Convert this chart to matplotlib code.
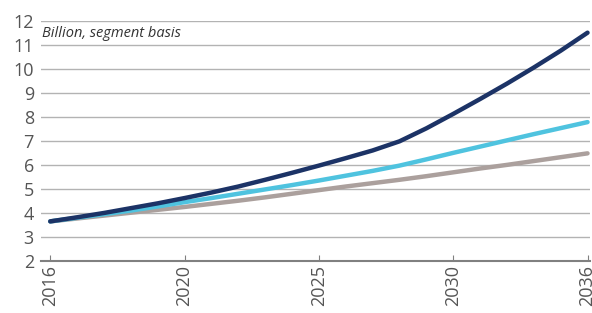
import matplotlib
matplotlib.use("Agg")
import matplotlib.pyplot as plt
import numpy as np

years = list(range(2016, 2037))
navy = [3.65, 3.82, 4.0, 4.2, 4.4, 4.62, 4.85, 5.1, 5.38, 5.67, 5.97,
        6.28, 6.6, 6.98, 7.52, 8.12, 8.74, 9.38, 10.05, 10.75, 11.5]
cyan = [3.65, 3.8, 3.95, 4.1, 4.27, 4.45, 4.62, 4.8, 4.98, 5.16, 5.35,
        5.55, 5.75, 5.97, 6.23, 6.5, 6.76, 7.02, 7.28, 7.53, 7.78]
grey = [3.65, 3.77, 3.89, 4.01, 4.13, 4.25, 4.38, 4.51, 4.65, 4.8, 4.95,
        5.1, 5.24, 5.38, 5.53, 5.69, 5.85, 6.0, 6.16, 6.32, 6.48]
tick_years = [2016, 2020, 2025, 2030, 2036]
tick_pos = [0, 5, 10, 15, 20]

plt.rcParams['font.family'] = ['Open Sans', 'DejaVu Sans']

fig = plt.figure(figsize=(5.92, 3.13), dpi=100)
ax = fig.add_axes([0.069, 0.166, 0.928, 0.768])

x = np.arange(len(years))
ax.plot(x, grey, color='#aba09d', lw=3.2, solid_capstyle='round', zorder=3)
ax.plot(x, cyan, color='#4fc3df', lw=3.2, solid_capstyle='round', zorder=4)
ax.plot(x, navy, color='#1c3366', lw=3.2, solid_capstyle='round', zorder=5)

ax.set_ylim(2, 12)
ax.set_xlim(-0.35, 20.1)
ax.set_yticks(range(2, 13))
ax.yaxis.grid(True, color='#b3b3b3', lw=1.0)
ax.set_axisbelow(True)
for s in ['top', 'right', 'left']:
    ax.spines[s].set_visible(False)
ax.spines['bottom'].set_color('#808080')
ax.spines['bottom'].set_linewidth(1.5)

ax.set_xticks(tick_pos)
ax.set_xticklabels([str(t) for t in tick_years], rotation=90)
ax.tick_params(axis='x', direction='in', length=4, color='#808080', pad=3,
               labelsize=13, labelcolor='#555555')
ax.tick_params(axis='y', length=0, pad=5, labelsize=13, labelcolor='#555555')

ax.text(-0.3, 11.45, 'Billion, segment basis', fontsize=10.5, style='italic',
        color='#333333', va='center', ha='left')

fig.savefig('out.png', dpi=100)
